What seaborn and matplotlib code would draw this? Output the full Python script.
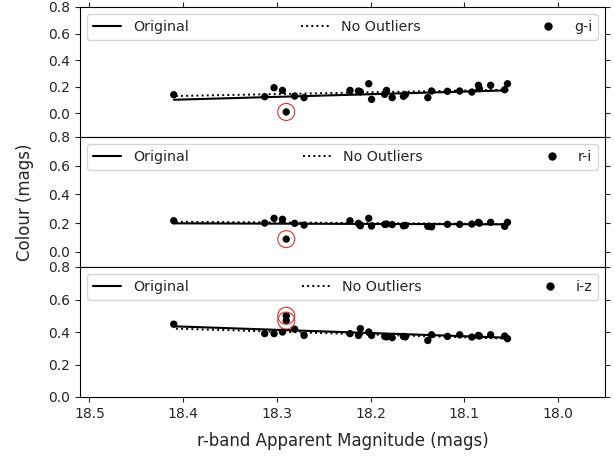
import numpy as np
import pandas as pd
import matplotlib
matplotlib.use("Agg")
import matplotlib.pyplot as plt
import seaborn as sns
from matplotlib.lines import Line2D

# r-band magnitudes of the clean stars
r_mag = [18.410, 18.313, 18.303, 18.294, 18.281, 18.271, 18.222, 18.213, 18.211,
         18.202, 18.199, 18.185, 18.183, 18.177, 18.165, 18.163, 18.139, 18.135,
         18.118, 18.105, 18.092, 18.085, 18.084, 18.072, 18.057, 18.054]

g_i = [0.138, 0.123, 0.191, 0.171, 0.128, 0.116, 0.171, 0.166, 0.160,
       0.221, 0.103, 0.141, 0.171, 0.116, 0.126, 0.138, 0.116, 0.166,
       0.164, 0.166, 0.158, 0.209, 0.184, 0.209, 0.176, 0.221]
r_i = [0.217, 0.201, 0.234, 0.227, 0.199, 0.187, 0.217, 0.199, 0.182,
       0.234, 0.180, 0.192, 0.194, 0.190, 0.182, 0.185, 0.178, 0.175,
       0.192, 0.192, 0.194, 0.206, 0.200, 0.206, 0.178, 0.206]
i_z = [0.448, 0.390, 0.390, 0.400, 0.417, 0.379, 0.390, 0.379, 0.421,
       0.400, 0.379, 0.373, 0.370, 0.365, 0.373, 0.370, 0.348, 0.383,
       0.373, 0.383, 0.369, 0.379, 0.375, 0.383, 0.375, 0.359]

# outliers (circled in red)
gi_out_mag, gi_out = [18.290], [0.008]
ri_out_mag, ri_out = [18.290], [0.089]
iz_out_mag, iz_out = [18.290, 18.290], [0.500, 0.470]

# fitted lines, read at the ends of the data range
fit_mag = [18.410, 18.054]
gi_fit_orig, gi_fit_clean = [0.100, 0.171], [0.128, 0.176]
ri_fit_orig, ri_fit_clean = [0.199, 0.192], [0.210, 0.194]
iz_fit_orig, iz_fit_clean = [0.435, 0.365], [0.421, 0.359]

panels = [
    ("g-i", g_i, gi_out_mag, gi_out, gi_fit_orig, gi_fit_clean, (-0.181, 0.8)),
    ("r-i", r_i, ri_out_mag, ri_out, ri_fit_orig, ri_fit_clean, (-0.105, 0.8)),
    ("i-z", i_z, iz_out_mag, iz_out, iz_fit_orig, iz_fit_clean, (0.0, 0.8)),
]

sns.set_style("ticks")
plt.rcParams["font.family"] = ["DejaVu Sans"]

fig, axes = plt.subplots(3, 1, sharex=True, figsize=(6.15, 4.58), dpi=100)
fig.subplots_adjust(left=80 / 615, right=605 / 615, top=1 - 7 / 458,
                    bottom=1 - 397 / 458, hspace=0)

for i, (ax, (name, vals, o_mag, o_val, f_orig, f_clean, ylim)) in enumerate(zip(axes, panels)):
    df = pd.DataFrame({"mag": r_mag, "col": vals})
    fit = pd.DataFrame({"mag": fit_mag, "orig": f_orig, "clean": f_clean})

    sns.lineplot(data=fit, x="mag", y="orig", ax=ax, color="black", lw=1.5)
    sns.lineplot(data=fit, x="mag", y="clean", ax=ax, color="black", lw=1.4,
                 linestyle=":")
    sns.scatterplot(data=df, x="mag", y="col", ax=ax, color="black", s=28,
                    edgecolor="none")
    sns.scatterplot(x=o_mag, y=o_val, ax=ax, color="black", s=28, edgecolor="none")
    ax.scatter(o_mag, o_val, s=150, facecolors="none", edgecolors="#e8302a", lw=0.8)

    handles = [Line2D([], [], color="black", lw=1.5),
               Line2D([], [], color="black", lw=1.4, linestyle=":"),
               Line2D([], [], color="black", marker="o", lw=0, markersize=5)]
    ax.legend(handles, ["Original", "No Outliers", name], loc="upper center",
              ncol=3, mode="expand", fontsize=10.3, framealpha=0.8)

    ax.set_ylim(*ylim)
    ax.set_yticks([0.0, 0.2, 0.4, 0.6, 0.8])
    ax.set_ylabel("")
    ax.set_xlabel("")
    ax.tick_params(labelsize=10, right=True, top=(i == 0))
    for sp in ax.spines.values():
        sp.set_visible(True)
        sp.set_color("black")

axes[-1].set_xlim(18.51, 17.95)
axes[-1].set_xticks([18.5, 18.4, 18.3, 18.2, 18.1, 18.0])
axes[-1].set_xlabel("r-band Apparent Magnitude (mags)", fontsize=12, labelpad=8)
fig.text(0.04, 1 - 202 / 458, "Colour (mags)", rotation=90, fontsize=12,
         ha="center", va="center")

fig.savefig("out.png", dpi=100)
